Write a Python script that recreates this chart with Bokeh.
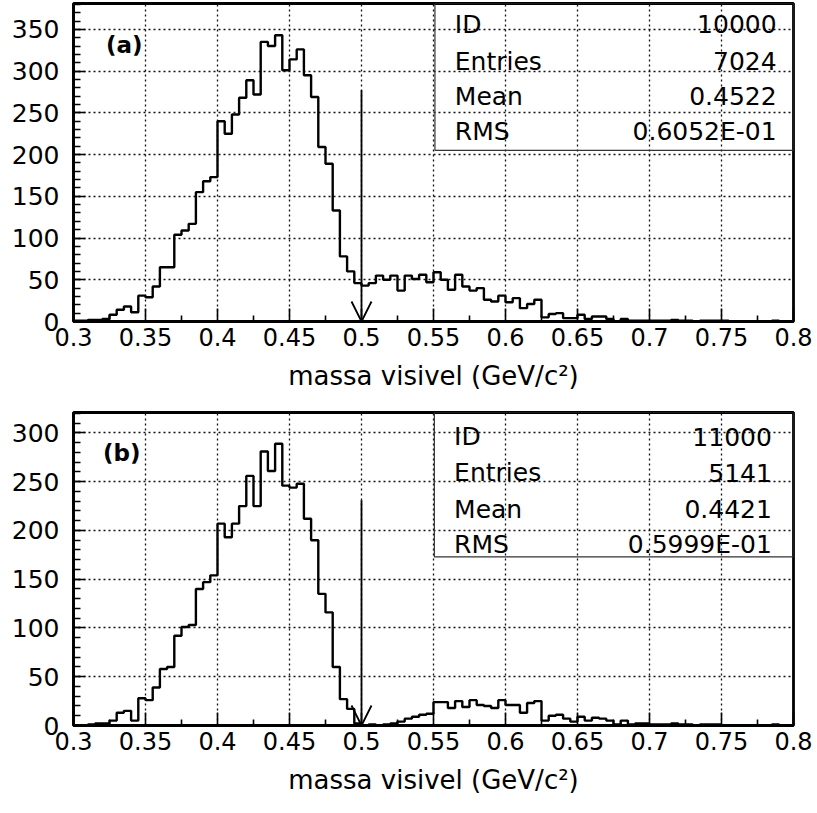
from bokeh.plotting import figure
from bokeh.models import FixedTicker, Arrow, OpenHead, BoxAnnotation, Range1d
from bokeh.layouts import column
from bokeh.core.properties import value
from bokeh.embed import file_html
from bokeh.resources import INLINE

# ---------------- data ----------------
x_lo, x_hi, n_bins = 0.3, 0.8, 100
bin_edges = [round(x_lo + (x_hi - x_lo) * i / n_bins, 4) for i in range(n_bins + 1)]

counts_a = [
    1, 1, 2, 2, 3, 8, 14, 18, 11, 31,
    29, 42, 65, 65, 104, 109, 117, 155, 168, 173,
    240, 225, 248, 268, 289, 272, 335, 330, 343, 301,
    314, 326, 295, 269, 209, 189, 133, 78, 60, 46,
    43, 46, 55, 50, 55, 37, 55, 51, 56, 47,
    59, 50, 38, 56, 42, 37, 40, 26, 24, 31,
    23, 28, 16, 21, 26, 5, 9, 10, 4, 4,
    8, 3, 6, 6, 3, 0, 3, 1, 1, 1,
    1, 1, 1, 2, 1, 1, 0, 1, 1, 1,
    1, 0, 0, 0, 0, 0, 0, 1, 0, 0,
]
counts_b = [
    0, 0, 1, 2, 2, 5, 13, 15, 5, 28,
    26, 39, 58, 60, 92, 101, 103, 140, 147, 154,
    207, 193, 207, 225, 256, 225, 281, 261, 289, 246,
    244, 248, 212, 190, 135, 116, 60, 27, 17, 2,
    0, 1, 0, 1, 2, 4, 7, 9, 11, 12,
    24, 24, 18, 25, 19, 26, 21, 20, 18, 26,
    21, 21, 13, 23, 25, 5, 10, 11, 7, 4,
    9, 5, 8, 7, 5, 1, 5, 1, 2, 2,
    1, 1, 1, 2, 1, 1, 0, 1, 1, 1,
    0, 0, 0, 0, 0, 0, 0, 1, 0, 0,
]

x_ticks = [0.3, 0.35, 0.4, 0.45, 0.5, 0.55, 0.6, 0.65, 0.7, 0.75, 0.8]
x_tick_labels = ["0.3", "0.35", "0.4", "0.45", "0.5", "0.55", "0.6", "0.65", "0.7", "0.75", "0.8"]
x_minor = [0.325, 0.375, 0.425, 0.475, 0.525, 0.575, 0.625, 0.675, 0.725, 0.775]
y_ticks_a = [0, 50, 100, 150, 200, 250, 300, 350]
y_ticks_b = [0, 50, 100, 150, 200, 250, 300]

stat_names = ["ID", "Entries", "Mean", "RMS"]
stats_a = ["10000", "7024", "0.4522", "0.6052E-01"]
stats_b = ["11000", "5141", "0.4421", "0.5999E-01"]

cut_value = 0.5
x_title = "massa visivel (GeV/c\u00b2)"

FONT = "DejaVu Sans"


def make_panel(counts, y_max, y_ticks, tag, stats, height, borders,
               box_left, box_bottom, row_y, name_x, val_x, tag_xy, arrow_top):
    bl, br, bt, bb = borders
    p = figure(width=817, height=height, x_range=Range1d(x_lo, x_hi),
               y_range=Range1d(0, y_max), output_backend="svg",
               toolbar_location=None, min_border_left=bl, min_border_right=br,
               min_border_top=bt, min_border_bottom=bb)
    p.background_fill_color = "white"
    p.border_fill_color = "white"
    p.outline_line_color = "black"
    p.outline_line_width = 2.8

    # grids
    for g in (p.xgrid, p.ygrid):
        g.grid_line_color = "#111111"
        g.grid_line_dash = "2 3"
        g.grid_line_width = 1.3

    # x axis
    xa = p.xaxis[0]
    xa.ticker = FixedTicker(ticks=x_ticks, minor_ticks=x_minor)
    xa.major_label_overrides = {t: s for t, s in zip(x_ticks, x_tick_labels)}
    xa.major_tick_in = 13
    xa.major_tick_out = 0
    xa.minor_tick_in = 6
    xa.minor_tick_out = 0
    xa.major_tick_line_width = 1.6
    xa.minor_tick_line_width = 1.6
    xa.axis_line_width = 2.8
    xa.major_label_text_font = FONT
    xa.major_label_text_font_size = "24px"
    xa.major_label_text_color = "black"
    xa.major_label_standoff = 6
    xa.axis_label = x_title
    xa.axis_label_text_font = FONT
    xa.axis_label_text_font_size = "26px"
    xa.axis_label_text_font_style = "normal"
    xa.axis_label_text_color = "black"
    xa.axis_label_standoff = 12

    # y axis
    ya = p.yaxis[0]
    ya.ticker = FixedTicker(ticks=y_ticks, minor_ticks=list(range(0, int(y_max) + 1, 10)))
    ya.major_tick_in = 12
    ya.major_tick_out = 0
    ya.minor_tick_in = 7
    ya.minor_tick_out = 0
    ya.major_tick_line_width = 1.6
    ya.minor_tick_line_width = 1.6
    ya.axis_line_width = 2.8
    ya.major_label_text_font = FONT
    ya.major_label_text_font_size = "25px"
    ya.major_label_text_color = "black"
    ya.major_label_standoff = 14

    # histogram outline
    p.step(x=bin_edges, y=counts + [counts[-1]], mode="after",
           line_color="black", line_width=2.4)

    # cut arrow
    p.add_layout(Arrow(end=OpenHead(size=20, line_width=1.8, line_color="black"),
                       x_start=cut_value, y_start=arrow_top, x_end=cut_value, y_end=0,
                       line_color="black", line_width=1.8))

    # stats box
    p.add_layout(BoxAnnotation(left=box_left, right=x_hi, bottom=box_bottom, top=y_max,
                               fill_alpha=0, line_color="#333333", line_width=1.2,
                               line_alpha=1))
    p.text(x=[name_x] * 4, y=row_y, text=stat_names, text_font=value(FONT),
           text_font_size="25px", text_baseline="middle", text_align="left",
           text_color="black")
    p.text(x=[val_x] * 4, y=row_y, text=stats, text_font=value(FONT),
           text_font_size="25px", text_baseline="middle", text_align="right",
           text_color="black")

    # panel tag
    p.text(x=[tag_xy[0]], y=[tag_xy[1]], text=[tag], text_font=value(FONT),
           text_font_size="23px", text_font_style="bold", text_baseline="middle",
           text_align="left", text_color="black")
    return p


p1 = make_panel(counts_a, 381, y_ticks_a, "(a)", stats_a, 406, (73, 19, 3, 85),
                0.551, 205, [356, 312, 270, 228], 0.5648, 0.7883, (0.3225, 331), 277)
p2 = make_panel(counts_b, 321, y_ticks_b, "(b)", stats_b, 407, (70, 24, 6, 88),
                0.5506, 173, [296, 259, 222, 186], 0.5643, 0.785, (0.3205, 279), 231)

layout = column(p1, p2, spacing=0)
open("out.html", "w").write(file_html(layout, INLINE))
